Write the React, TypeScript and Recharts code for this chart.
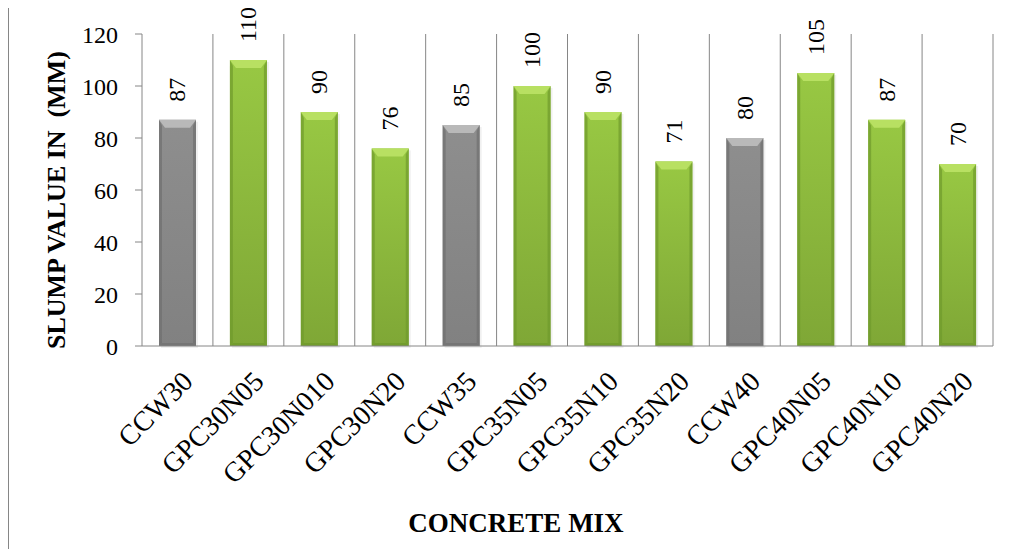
import React from "react"
import { BarChart, Bar, XAxis, YAxis, CartesianGrid, LabelList, Cell } from "recharts"

const mixes = [
  "CCW30", "GPC30N05", "GPC30N010", "GPC30N20",
  "CCW35", "GPC35N05", "GPC35N10", "GPC35N20",
  "CCW40", "GPC40N05", "GPC40N10", "GPC40N20",
]
const slump = [87, 110, 90, 76, 85, 100, 90, 71, 80, 105, 87, 70]
const yTicks = [0, 20, 40, 60, 80, 100, 120]

const data = mixes.map((name, i) => ({ name, value: slump[i] }))

const FONT = "'Liberation Serif', 'Times New Roman', serif"
const AXIS = "#868686"

// bevelled bar like the excel preset
function BevelBar(props: any) {
  const { x, y, width, height, payload } = props
  if (!height || height <= 0) return null
  const gray = payload.name.startsWith("CCW")
  const id = gray ? "gGray" : "gGreen"
  const top = gray ? "#b9b9b9" : "#b8e062"
  const side = gray ? "#6f6f6f" : "#6f9a2c"
  const bot = gray ? "#727272" : "#6f9a2c"
  const b = 6
  return (
    <g>
      <rect x={x + 2} y={y + 2} width={width} height={height} fill="#000" opacity={0.06} />
      <rect x={x} y={y} width={width} height={height} fill={`url(#${id})`} />
      <polygon points={`${x},${y} ${x + 3},${y + b} ${x + 3},${y + height - 3} ${x},${y + height}`} fill={side} opacity={0.7} />
      <polygon points={`${x + width},${y} ${x + width - 3},${y + b} ${x + width - 3},${y + height - 3} ${x + width},${y + height}`} fill={side} opacity={0.7} />
      <polygon points={`${x},${y} ${x + width},${y} ${x + width - b},${y + b + 2} ${x + b},${y + b + 2}`} fill={top} />
      <polygon points={`${x},${y + height} ${x + width},${y + height} ${x + width - 3},${y + height - 3} ${x + 3},${y + height - 3}`} fill={bot} opacity={0.8} />
    </g>
  )
}

function ValueLabel(props: any) {
  const { x, y, width, value } = props
  const cx = x + width / 2 + 8
  const cy = y - 18
  return (
    <text x={cx} y={cy} transform={`rotate(-90 ${cx} ${cy})`} textAnchor="start" style={{ fontFamily: FONT, fontSize: 24 }} fill="#000">
      {value}
    </text>
  )
}

function MixTick(props: any) {
  const { x, y, payload } = props
  const ax = x + 17
  const ay = y + 37
  return (
    <text x={ax} y={ay} transform={`rotate(-45 ${ax} ${ay})`} textAnchor="end" style={{ fontFamily: FONT, fontSize: 28 }} fill="#000">
      {payload.value}
    </text>
  )
}

export default function App() {
  return (
    <div style={{ position: "relative", width: 1003, height: 541, fontFamily: FONT }}>
      <div style={{ position: "absolute", left: 0, top: -2, width: 1010, height: 550, borderTop: `1px solid ${AXIS}`, borderLeft: `1px solid ${AXIS}` }} />
      <div style={{ position: "absolute", left: 0, top: -2 }}>
        <BarChart width={1000} height={540} data={data} margin={{ top: 28, right: 15, left: 0, bottom: 0 }} barSize={37} style={{ fontFamily: FONT }}>
          <defs>
            <linearGradient id="gGreen" x1="0" y1="0" x2="0" y2="1">
              <stop offset="0%" stopColor="#98c843" />
              <stop offset="100%" stopColor="#7fa736" />
            </linearGradient>
            <linearGradient id="gGray" x1="0" y1="0" x2="0" y2="1">
              <stop offset="0%" stopColor="#8e8e8e" />
              <stop offset="100%" stopColor="#818181" />
            </linearGradient>
          </defs>
          <CartesianGrid
            horizontal={false}
            stroke={AXIS}
            verticalCoordinatesGenerator={({ offset }: any) =>
              mixes.map((_, i) => offset.left + ((i + 1) * offset.width) / mixes.length)
            }
          />
          <XAxis
            dataKey="name"
            height={200}
            axisLine={{ stroke: AXIS }}
            tickLine={false}
            tickSize={0}
            tickMargin={0}
            interval={0}
            tick={<MixTick />}
          />
          <YAxis
            width={134}
            domain={[0, 120]}
            ticks={yTicks}
            axisLine={{ stroke: AXIS }}
            tickLine={{ stroke: AXIS }}
            tickSize={7}
            tickMargin={17}
            tick={{ fontSize: 24, fill: "#000", style: { fontFamily: FONT } }}
          />
          <Bar dataKey="value" shape={<BevelBar />} isAnimationActive={false}>
            {data.map((d, i) => (
              <Cell key={`c-${i}`} />
            ))}
            <LabelList dataKey="value" content={<ValueLabel />} />
          </Bar>
        </BarChart>
      </div>
      <svg width={1003} height={541} style={{ position: "absolute", left: 0, top: -2, pointerEvents: "none" }}>
        <text x={57} y={194} transform="rotate(-90 57 194)" textAnchor="middle" fontFamily={FONT} fontWeight="bold" fontSize={26} fill="#000" style={{ whiteSpace: "pre" }}>
          {"SLUMP VALUE IN  (MM)"}
        </text>
        <text x={508} y={526} textAnchor="middle" fontFamily={FONT} fontWeight="bold" fontSize={27} fill="#000">
          CONCRETE MIX
        </text>
      </svg>
    </div>
  )
}
